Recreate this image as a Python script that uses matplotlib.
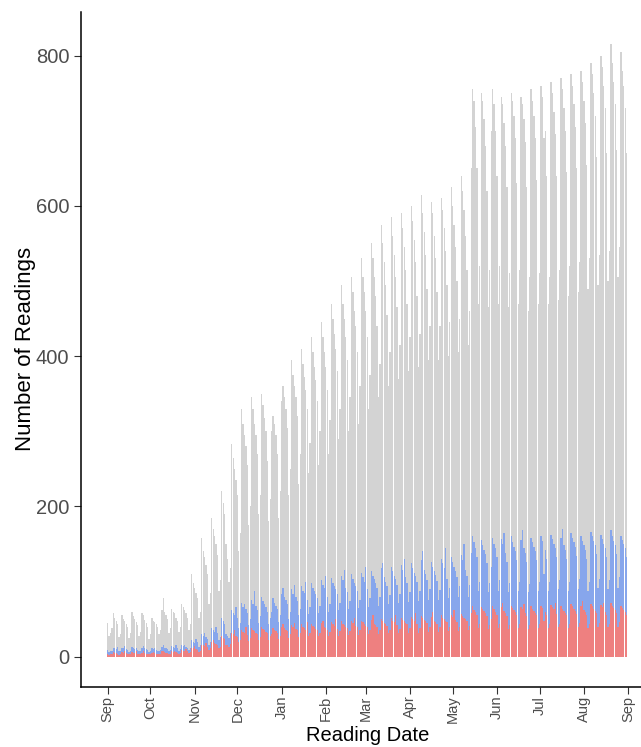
import numpy as np
import pandas as pd
import matplotlib
matplotlib.use("Agg")
import matplotlib.pyplot as plt
import matplotlib.dates as mdates

plt.rcParams['font.family'] = ['Liberation Sans', 'DejaVu Sans']

# daily readings, 2017-09-01 (Fri) .. 2018-08-31 (Fri); rows are Mon..Sun weeks
total = [
    45, 28, 32,
    38, 58, 52, 48, 44, 26, 30,
    55, 50, 47, 44, 40, 25, 31,
    60, 54, 50, 46, 42, 27, 33,
    58, 55, 49, 45, 40, 24, 30,
    52, 48, 46, 44, 39, 30, 35,
    62, 78, 60, 55, 50, 32, 38,
    64, 60, 58, 52, 48, 33, 40,
    70, 66, 62, 58, 52, 36, 44,
    110, 98, 92, 85, 78, 52, 60,
    158, 140, 132, 122, 110, 70, 85,
    185, 170, 160, 150, 135, 88, 102,
    220, 205, 190, 150, 130, 100, 118,
    283, 265, 250, 235, 215, 140, 165,
    330, 310, 295, 280, 255, 175, 200,
    345, 330, 310, 295, 270, 190, 215,
    350, 335, 318, 300, 260, 180, 210,
    300, 320, 310, 295, 270, 185, 220,
    340, 360, 345, 330, 305, 215, 250,
    395, 375, 360, 345, 320, 230, 270,
    410, 390, 372, 355, 330, 245, 285,
    425, 405, 385, 368, 340, 255, 300,
    445, 425, 405, 385, 355, 270, 315,
    470, 450, 430, 410, 380, 290, 330,
    495, 470, 450, 425, 395, 300, 345,
    505, 485, 460, 440, 405, 310, 360,
    530, 505, 485, 460, 425, 330, 375,
    550, 530, 505, 480, 440, 345, 390,
    575, 550, 525, 495, 455, 360, 405,
    585, 560, 535, 505, 465, 370, 415,
    590, 570, 545, 515, 470, 380, 425,
    600, 580, 555, 525, 480, 385, 430,
    615, 590, 565, 535, 490, 395, 440,
    605, 590, 560, 530, 485, 395, 440,
    610, 595, 570, 540, 495, 400, 445,
    625, 600, 575, 545, 500, 405, 450,
    640, 620, 595, 560, 515, 415, 460,
    650, 755, 740, 705, 650, 470, 520,
    750, 740, 715, 680, 620, 465, 515,
    700, 755, 735, 700, 640, 470, 520,
    745, 735, 710, 680, 625, 465, 510,
    750, 740, 720, 690, 630, 470, 515,
    745, 735, 715, 685, 625, 460, 505,
    755, 740, 720, 690, 635, 470, 510,
    760, 745, 690, 700, 640, 470, 505,
    765, 750, 725, 695, 640, 475, 515,
    770, 755, 730, 700, 645, 480, 520,
    775, 760, 735, 705, 650, 485, 525,
    780, 765, 740, 710, 655, 490, 530,
    790, 775, 750, 720, 665, 495, 535,
    800, 785, 760, 730, 670, 500, 540,
    815, 790, 765, 735, 675, 505, 545,
    805, 780, 760, 730, 670,
]

blue = [
    9, 6, 7,
    7, 12, 11, 10, 13, 7, 8,
    12, 11, 14, 10, 9, 6, 8,
    13, 12, 10, 11, 9, 7, 8,
    12, 14, 11, 10, 9, 6, 7,
    11, 10, 12, 9, 8, 7, 9,
    13, 16, 12, 11, 10, 7, 9,
    14, 13, 12, 15, 11, 8, 10,
    16, 14, 15, 13, 12, 9, 11,
    22, 20, 18, 24, 19, 13, 15,
    30, 27, 32, 26, 24, 16, 20,
    38, 35, 33, 40, 31, 22, 26,
    52, 47, 44, 30, 28, 25, 32,
    62, 58, 55, 66, 52, 38, 45,
    72, 66, 70, 63, 58, 42, 50,
    76, 70, 88, 68, 62, 45, 54,
    80, 74, 70, 66, 60, 44, 52,
    60, 78, 72, 68, 63, 46, 55,
    84, 92, 80, 76, 70, 50, 60,
    90, 84, 95, 80, 74, 55, 64,
    94, 88, 85, 100, 76, 57, 66,
    98, 92, 88, 84, 78, 58, 68,
    102, 96, 92, 108, 80, 60, 70,
    105, 98, 94, 90, 84, 62, 72,
    108, 102, 115, 92, 86, 64, 74,
    110, 104, 98, 94, 88, 65, 76,
    112, 106, 100, 120, 90, 66, 78,
    114, 108, 103, 98, 92, 68, 80,
    118, 125, 106, 100, 94, 70, 82,
    120, 114, 108, 104, 96, 72, 84,
    122, 116, 130, 106, 98, 73, 86,
    125, 118, 112, 108, 100, 74, 88,
    128, 140, 115, 110, 102, 76, 90,
    126, 120, 114, 109, 101, 75, 89,
    130, 124, 118, 145, 104, 78, 92,
    132, 126, 120, 114, 106, 79, 94,
    135, 128, 150, 116, 108, 80, 95,
    138, 160, 152, 145, 132, 88, 100,
    155, 148, 142, 136, 125, 86, 98,
    120, 158, 150, 144, 132, 88, 102,
    156, 150, 165, 138, 126, 86, 98,
    160, 152, 146, 140, 128, 88, 100,
    155, 168, 144, 138, 126, 86, 97,
    158, 152, 146, 140, 128, 87, 99,
    160, 154, 110, 142, 130, 88, 100,
    162, 156, 150, 144, 132, 90, 102,
    158, 170, 148, 142, 130, 88, 100,
    164, 158, 152, 146, 134, 90, 103,
    160, 154, 148, 142, 130, 88, 100,
    166, 160, 154, 148, 136, 92, 104,
    162, 156, 150, 144, 132, 90, 102,
    168, 160, 154, 148, 136, 92, 106,
    160, 155, 150, 145, 132,
]

red = [
    4, 2, 3,
    3, 6, 5, 5, 4, 2, 3,
    6, 5, 7, 5, 4, 3, 3,
    6, 5, 5, 7, 4, 3, 4,
    5, 7, 5, 4, 4, 3, 3,
    5, 6, 5, 4, 4, 3, 4,
    7, 8, 6, 5, 5, 3, 4,
    7, 6, 8, 6, 5, 4, 5,
    9, 8, 7, 10, 7, 5, 6,
    12, 11, 14, 10, 9, 6, 8,
    16, 15, 14, 18, 13, 9, 11,
    20, 22, 18, 17, 16, 11, 13,
    28, 25, 24, 16, 15, 13, 17,
    32, 30, 36, 28, 26, 19, 22,
    36, 33, 31, 40, 29, 21, 25,
    38, 35, 34, 32, 30, 22, 26,
    40, 37, 35, 33, 31, 22, 27,
    30, 38, 36, 34, 32, 23, 28,
    40, 43, 38, 36, 34, 25, 30,
    42, 39, 45, 37, 35, 26, 31,
    43, 40, 38, 36, 46, 27, 32,
    44, 41, 39, 37, 35, 27, 32,
    45, 48, 40, 38, 36, 28, 33,
    46, 43, 41, 50, 37, 28, 34,
    47, 44, 42, 40, 38, 29, 34,
    48, 45, 52, 41, 39, 29, 35,
    48, 46, 43, 41, 39, 30, 35,
    49, 55, 44, 42, 40, 30, 36,
    50, 47, 45, 43, 41, 31, 36,
    51, 48, 46, 56, 42, 31, 37,
    52, 49, 47, 45, 43, 32, 38,
    53, 50, 48, 58, 44, 32, 38,
    54, 51, 49, 47, 45, 33, 39,
    53, 60, 48, 46, 44, 33, 39,
    55, 52, 50, 48, 46, 34, 40,
    56, 53, 62, 49, 46, 34, 40,
    57, 54, 52, 50, 47, 35, 41,
    58, 68, 62, 60, 55, 38, 43,
    66, 64, 61, 58, 54, 37, 42,
    50, 68, 64, 60, 56, 38, 44,
    66, 72, 61, 58, 54, 37, 42,
    68, 65, 62, 59, 55, 38, 43,
    66, 63, 70, 58, 54, 37, 42,
    67, 64, 61, 58, 55, 38, 43,
    68, 65, 48, 60, 56, 38, 44,
    69, 66, 63, 72, 57, 39, 44,
    67, 64, 61, 58, 55, 38, 43,
    70, 67, 64, 61, 57, 39, 45,
    68, 74, 62, 59, 55, 38, 43,
    70, 67, 64, 61, 58, 40, 45,
    69, 66, 72, 60, 56, 39, 44,
    71, 68, 65, 62, 58, 40, 46,
    68, 65, 62, 60, 56,
]

dates = pd.date_range("2017-09-01", periods=len(total), freq="D")
month_ticks = pd.date_range("2017-09-01", "2018-09-01", freq="MS")

fig = plt.figure(figsize=(6.41, 7.47), dpi=100)
# right part of the panel runs past the image edge, as in the original crop
ax = fig.add_axes([0.1264, 0.0807, 0.895, 0.9032])

ax.bar(dates, total, width=0.9, color="#d3d3d3", linewidth=0)
ax.bar(dates, blue, width=0.9, color="#87a6ec", linewidth=0)
ax.bar(dates, red, width=0.9, color="#ee8080", linewidth=0)

ax.set_ylim(-40, 858)
ax.set_xlim(pd.Timestamp("2017-09-01") - pd.Timedelta(days=18.7),
            pd.Timestamp("2018-09-01") + pd.Timedelta(days=18.7))
ax.set_yticks([0, 200, 400, 600, 800])
ax.set_xticks(month_ticks)
ax.xaxis.set_major_formatter(mdates.DateFormatter("%b"))
plt.setp(ax.get_xticklabels(), rotation=90)

ax.tick_params(axis='y', labelsize=14.5, labelcolor="#4d4d4d", length=5, color="#333333")
ax.tick_params(axis='x', labelsize=10.5, labelcolor="#4d4d4d", length=5, color="#333333", pad=1.5)
ax.spines['top'].set_visible(False)
ax.spines['right'].set_visible(False)
ax.spines['left'].set_linewidth(1.1)
ax.spines['bottom'].set_linewidth(1.1)

ax.set_ylabel("Number of Readings", fontsize=16, labelpad=0)
ax.set_xlabel("Reading Date", fontsize=14.5, labelpad=1.5)

fig.savefig("out.png", dpi=100)
